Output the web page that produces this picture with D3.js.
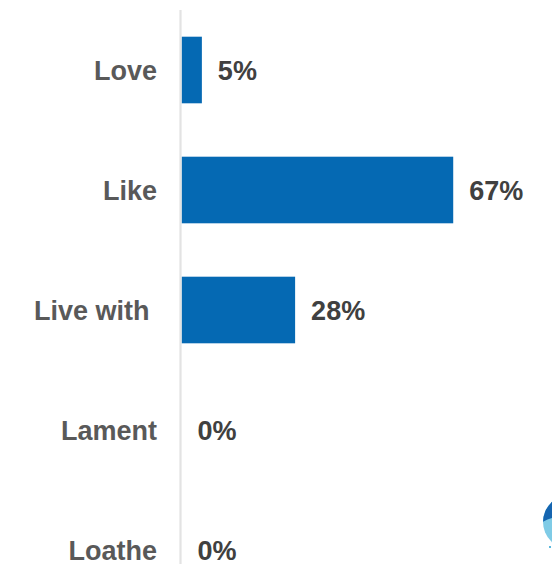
<!DOCTYPE html>
<html>
<head>
<meta charset="utf-8">
<script src="https://cdn.jsdelivr.net/npm/d3@7"></script>
<style>
html,body{margin:0;padding:0;background:#fff;}
svg{display:block;}
</style>
</head>
<body>
<svg id="chart" width="552" height="564"></svg>
<script>
const categories = ["Love", "Like", "Live with ", "Lament", "Loathe"];
const values = [5, 67, 28, 0, 0];
const valueLabels = ["5%", "67%", "28%", "0%", "0%"];

const svg = d3.select("#chart");
const W = 552, H = 564;

const y = d3.scaleBand()
  .domain(categories)
  .range([10, 610])
  .paddingInner(0.445)
  .paddingOuter(0.2225);

const x = d3.scaleLinear().domain([0, 100]).range([181.6, 587]);

const font = "Arial, 'Liberation Sans', sans-serif";

// bars
svg.append("g").selectAll("rect")
  .data(categories)
  .join("rect")
  .attr("x", x(0))
  .attr("y", d => y(d))
  .attr("width", (d, i) => x(values[i]) - x(0))
  .attr("height", y.bandwidth())
  .attr("fill", "#0569b3");

// axis line
svg.append("line")
  .attr("x1", 180.5).attr("x2", 180.5)
  .attr("y1", 10).attr("y2", H)
  .attr("stroke", "#e3e3e3")
  .attr("stroke-width", 2.2);

// category labels
svg.append("g").selectAll("text")
  .data(categories)
  .join("text")
  .attr("x", 157)
  .attr("y", d => y(d) + y.bandwidth() / 2)
  .attr("dy", "0.36em")
  .attr("text-anchor", "end")
  .style("white-space", "pre")
  .attr("font-family", font)
  .attr("font-weight", "bold")
  .attr("font-size", 27)
  .attr("fill", "#595959")
  .text(d => d);

// value labels
svg.append("g").selectAll("text")
  .data(categories)
  .join("text")
  .attr("x", (d, i) => x(values[i]) + 16)
  .attr("y", d => y(d) + y.bandwidth() / 2)
  .attr("dy", "0.36em")
  .attr("font-family", font)
  .attr("font-weight", "bold")
  .attr("font-size", 27)
  .attr("fill", "#404040")
  .text((d, i) => valueLabels[i]);

// partial logo at bottom-right corner
const defs = svg.append("defs");
defs.append("clipPath").attr("id", "logoClip")
  .append("circle").attr("cx", 570).attr("cy", 522).attr("r", 27);
const logo = svg.append("g").attr("clip-path", "url(#logoClip)");
logo.append("rect").attr("x", 540).attr("y", 494).attr("width", 20).attr("height", 60).attr("fill", "#7fcbe6");
logo.append("path").attr("d", "M540,494 L560,494 L560,518 Q550,516 540,524 Z").attr("fill", "#1565b0");
svg.append("rect").attr("x", 549).attr("y", 546).attr("width", 2).attr("height", 2).attr("fill", "#5bb8dc");
</script>
</body>
</html>
